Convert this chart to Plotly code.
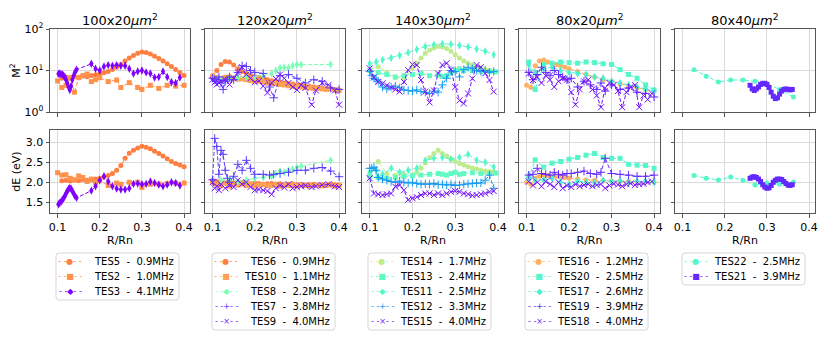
import numpy as np
import plotly.graph_objects as go

# ---------------- data ----------------
sizes = ["100x20", "120x20", "140x30", "80x20", "80x40"]
r_ticks = [0.1, 0.2, 0.3, 0.4]
m2_ticks = [1, 10, 100]
m2_ticktext = ["10<sup>0</sup>", "10<sup>1</sup>", "10<sup>2</sup>"]
de_ticks = [1.5, 2.0, 2.5, 3.0]

# 100x20
tes5_r = [0.11, 0.12, 0.13, 0.14, 0.15, 0.16, 0.17, 0.18, 0.19, 0.20, 0.21, 0.22, 0.23, 0.24, 0.25,
          0.26, 0.27, 0.28, 0.29, 0.30, 0.31, 0.32, 0.33, 0.34, 0.35, 0.36, 0.37, 0.38, 0.39, 0.40]
tes5_m2 = [6.5, 7.0, 6.8, 7.2, 6.9, 7.4, 7.1, 7.6, 7.9, 8.3, 8.8, 9.5, 10.5, 12, 14,
           17, 20, 23, 26, 28, 27, 25, 22, 19.5, 17, 14.5, 12.5, 10.5, 9, 7.6]
tes5_de = [2.04, 2.05, 2.03, 2.06, 2.04, 2.07, 2.05, 2.06, 2.08, 2.10, 2.13, 2.17, 2.22, 2.30, 2.42,
           2.60, 2.73, 2.80, 2.86, 2.90, 2.88, 2.84, 2.78, 2.72, 2.66, 2.59, 2.52, 2.47, 2.43, 2.39]

tes2_r = [0.10, 0.11, 0.12, 0.13, 0.14, 0.15, 0.16, 0.17, 0.18, 0.19, 0.20,
          0.22, 0.24, 0.25, 0.27, 0.29, 0.30, 0.32, 0.34, 0.36, 0.38, 0.40]
tes2_m2 = [5.6, 3.9, 4.4, 6.5, 3.0, 6.7, 7.5, 8.2, 5.4, 6.0, 6.7,
           5.4, 5.9, 3.9, 5.1, 3.9, 3.5, 4.4, 3.7, 4.4, 4.2, 4.4]
tes2_de = [2.24, 2.18, 2.19, 2.10, 2.06, 2.16, 2.12, 2.02, 2.08, 2.00, 2.04,
           1.92, 1.98, 1.95, 2.00, 2.00, 1.87, 1.95, 1.96, 1.97, 1.98, 1.98]

tes3_r = [0.102, 0.105, 0.108, 0.111, 0.114, 0.117, 0.120, 0.123, 0.126, 0.129, 0.132, 0.135, 0.138,
          0.141, 0.145, 0.18, 0.19, 0.20, 0.21, 0.22, 0.23, 0.24, 0.25, 0.26, 0.27, 0.28, 0.29,
          0.30, 0.31, 0.32, 0.33, 0.34, 0.35, 0.36, 0.37, 0.38, 0.39]
tes3_m2 = [8.3, 8.5, 8.2, 8.0, 7.6, 7.0, 6.0, 5.0, 4.0, 3.4, 4.2, 6.0, 7.5,
           9.0, 10.5, 14.5, 11, 10, 12.5, 13.5, 13, 13.5, 13, 13, 11, 8.5, 9.5,
           10, 9, 8.5, 6.8, 7, 9.5, 7, 5.3, 5, 6.8]
tes3_de = [1.45, 1.48, 1.51, 1.55, 1.60, 1.65, 1.72, 1.78, 1.83, 1.86, 1.84, 1.78, 1.72,
           1.66, 1.61, 1.79, 1.90, 2.05, 2.15, 2.02, 1.90, 1.84, 1.82, 1.82, 1.85, 1.96, 1.97,
           1.95, 1.96, 2.02, 1.98, 1.94, 1.90, 1.94, 2.00, 1.98, 1.92]

# 120x20
tes6_r = [0.10, 0.11, 0.12, 0.13, 0.14, 0.15, 0.16, 0.17, 0.18, 0.19, 0.20, 0.21, 0.22, 0.23, 0.24, 0.25,
          0.26, 0.27, 0.28, 0.29, 0.30, 0.31, 0.32, 0.33, 0.34, 0.35, 0.36, 0.37, 0.38, 0.39, 0.40]
tes6_m2 = [7.5, 10, 14, 16.5, 16, 13.5, 11, 9.5, 8.5, 7.8, 7.2, 6.8, 6.4, 6.0, 5.7, 5.5,
           5.2, 5.0, 4.8, 4.7, 4.5, 4.4, 4.2, 4.1, 4.0, 3.9, 3.8, 3.7, 3.6, 3.5, 3.4]
tes6_de = [2.05, 2.02, 2.00, 1.98, 2.02, 1.99, 1.97, 2.00, 1.98, 1.96, 1.98, 1.97, 1.95, 1.96, 1.97, 1.95,
           1.96, 1.94, 1.95, 1.96, 1.94, 1.95, 1.93, 1.94, 1.95, 1.93, 1.94, 1.92, 1.93, 1.94, 1.93]

tes10_r = tes6_r
tes10_m2 = [7.2, 6.8, 6.5, 6.8, 7.0, 6.5, 6.2, 6.3, 6.0, 5.7, 5.6, 5.5, 5.3, 5.0, 4.9, 4.8,
            4.6, 4.5, 4.3, 4.2, 4.1, 4.0, 3.9, 3.8, 3.7, 3.7, 3.6, 3.5, 3.6, 3.4, 3.3]
tes10_de = [2.00, 1.95, 1.92, 1.98, 1.90, 1.95, 1.93, 1.96, 1.92, 1.95, 1.90, 1.93, 1.94, 1.91, 1.92, 1.95,
            1.90, 1.93, 1.92, 1.94, 1.91, 1.93, 1.92, 1.90, 1.93, 1.92, 1.91, 1.93, 1.95, 1.90, 1.92]

tes8_r = [0.12, 0.14, 0.16, 0.18, 0.20, 0.22, 0.24, 0.25, 0.26, 0.27, 0.28, 0.29, 0.30, 0.31, 0.38]
tes8_m2 = [6.0, 6.5, 6.8, 7.0, 7.2, 7.5, 8.5, 10.0, 11.5, 12.0, 11.5, 13.0, 14.0, 13.8, 14.0]
tes8_de = [2.05, 2.08, 2.02, 2.05, 2.10, 2.12, 2.15, 2.22, 2.28, 2.25, 2.30, 2.33, 2.38, 2.40, 2.55]

tes7_r = [0.10, 0.105, 0.11, 0.115, 0.12, 0.125, 0.13, 0.135, 0.14, 0.15, 0.16, 0.17, 0.18,
          0.19, 0.20, 0.22, 0.235, 0.245, 0.26, 0.28, 0.30, 0.32, 0.34, 0.36, 0.38, 0.40]
tes7_m2 = [6.5, 6.0, 5.5, 7.0, 5.0, 3.5, 5.5, 6.0, 7.0, 6.0, 9.0, 13.0, 12.5,
           10.0, 9.0, 8.5, 4.0, 2.2, 7.5, 8.0, 6.5, 5.0, 6.0, 5.5, 3.8, 3.5]
tes7_de = [2.06, 3.10, 2.90, 2.20, 2.80, 2.70, 2.30, 2.10, 2.00, 2.15, 2.45, 2.30, 2.55,
           2.35, 2.20, 2.20, 2.18, 2.20, 2.22, 2.25, 2.30, 2.30, 2.35, 2.37, 2.28, 2.14]

tes9_r = [0.10, 0.105, 0.11, 0.115, 0.12, 0.13, 0.14, 0.15, 0.16, 0.17, 0.18, 0.19, 0.20, 0.21, 0.22, 0.23,
          0.24, 0.25, 0.26, 0.27, 0.28, 0.29, 0.30, 0.31, 0.32, 0.335, 0.345, 0.36, 0.375, 0.39, 0.40]
tes9_m2 = [6.0, 5.2, 4.6, 5.0, 5.5, 6.0, 4.6, 6.5, 9.0, 12.0, 8.0, 6.5, 5.2, 5.6, 4.2, 2.9,
           5.0, 6.3, 8.0, 6.5, 5.0, 4.0, 3.4, 4.5, 3.8, 1.5, 3.3, 5.0, 4.5, 3.3, 1.5]
tes9_de = [2.00, 1.85, 1.90, 1.80, 1.95, 1.85, 1.92, 1.88, 2.05, 1.95, 2.00, 1.88, 1.80, 1.82, 1.80, 1.78,
           1.70, 1.85, 1.92, 1.87, 1.95, 1.85, 1.88, 1.90, 1.92, 1.88, 1.90, 1.93, 1.95, 1.90, 1.88]

# 140x30
tes14_r = [0.10, 0.12, 0.14, 0.16, 0.18, 0.20, 0.21, 0.22, 0.23, 0.24, 0.25, 0.26, 0.27,
           0.28, 0.29, 0.30, 0.31, 0.32, 0.33, 0.34, 0.35, 0.36, 0.37, 0.38, 0.39]
tes14_m2 = [10.0, 12.3, 9.0, 6.8, 6.5, 11.5, 15, 20, 26, 31, 35, 38, 37,
            34, 29, 24, 20, 17, 15, 13.5, 12, 11.5, 10.5, 10.0, 9.6]
tes14_de = [2.18, 2.52, 2.22, 2.17, 2.20, 2.18, 2.25, 2.35, 2.48, 2.62, 2.72, 2.80, 2.72,
            2.66, 2.58, 2.52, 2.47, 2.43, 2.39, 2.36, 2.33, 2.30, 2.28, 2.27, 2.26]

tes13_r = [0.10, 0.12, 0.14, 0.16, 0.18, 0.20, 0.22, 0.24, 0.26, 0.27, 0.28, 0.29, 0.30, 0.31,
           0.32, 0.34, 0.36, 0.38, 0.395]
tes13_m2 = [10, 9, 8, 7, 7.5, 8, 8.5, 7.5, 7.8, 7.2, 7.5, 8.5, 10, 11, 10, 10, 9.5, 9.5, 9.3]
tes13_de = [2.15, 2.12, 2.10, 2.12, 2.15, 2.17, 2.18, 2.20, 2.22, 2.20, 2.18, 2.22, 2.25, 2.20,
            2.22, 2.24, 2.22, 2.22, 2.23]

tes11_r = [0.10, 0.115, 0.13, 0.15, 0.17, 0.19, 0.21, 0.23, 0.25, 0.27, 0.29, 0.31, 0.33, 0.35, 0.37, 0.39]
tes11_m2 = [14.5, 16, 18, 20, 23, 27, 32, 38, 42, 44, 43, 40, 37, 33, 29, 24]
tes11_de = [2.25, 2.30, 2.20, 2.35, 2.25, 2.30, 2.35, 2.55, 2.60, 2.62, 2.58, 2.62, 2.70, 2.55, 2.50, 2.38]

tes12_r = [0.10, 0.105, 0.11, 0.115, 0.12, 0.13, 0.14, 0.15, 0.16, 0.17, 0.18, 0.19, 0.20, 0.21, 0.22, 0.23,
           0.24, 0.25, 0.26, 0.27, 0.28, 0.29, 0.30, 0.31, 0.32, 0.33, 0.34, 0.35, 0.36, 0.37, 0.38, 0.39]
tes12_m2 = [9.5, 7.5, 6.5, 6.0, 5.5, 4.0, 3.6, 4.0, 4.2, 3.8, 3.4, 3.3, 3.2, 3.4, 3.1, 3.0,
            2.8, 3.2, 3.0, 4.5, 6.5, 10.0, 9.5, 7.0, 10.5, 12.0, 11.0, 10.0, 9.5, 10.0, 9.0, 9.5]
tes12_de = [2.35, 2.35, 2.38, 2.30, 2.12, 2.08, 2.05, 2.02, 2.00, 2.03, 2.00, 1.98, 2.00, 1.97, 1.95, 1.96,
            1.95, 1.97, 1.94, 1.95, 1.93, 1.95, 1.92, 1.93, 1.95, 1.96, 1.97, 1.98, 1.98, 2.05, 2.18, 1.85]

tes15_r = [0.10, 0.11, 0.12, 0.13, 0.14, 0.15, 0.16, 0.17, 0.18, 0.19, 0.20, 0.21, 0.22, 0.23, 0.24,
           0.25, 0.26, 0.27, 0.28, 0.29, 0.30, 0.31, 0.32, 0.33, 0.34, 0.35, 0.36, 0.37, 0.38, 0.39]
tes15_m2 = [11.3, 6.8, 5.3, 4.9, 4.4, 3.9, 3.5, 3.1, 5.3, 10.2, 14, 13.6, 5.9, 3.1, 1.7,
            3.3, 8.5, 13.6, 15, 10.5, 4.0, 1.9, 1.6, 2.8, 6.4, 13.6, 12, 8.5, 5.9, 3.1]
tes15_de = [2.10, 1.72, 1.70, 1.68, 1.70, 1.72, 1.89, 1.93, 1.80, 1.56, 1.60, 1.63, 1.68, 1.72, 1.72,
            1.68, 1.72, 1.68, 1.72, 1.76, 1.78, 1.76, 1.72, 1.70, 1.67, 1.68, 1.70, 1.72, 1.76, 1.78]

# 80x20
tes16_r = [0.10, 0.11, 0.12, 0.13, 0.14, 0.15, 0.16, 0.17, 0.18, 0.19, 0.20, 0.22, 0.24, 0.26,
           0.28, 0.30, 0.32, 0.34, 0.36, 0.38, 0.40]
tes16_m2 = [4.4, 3.9, 13, 17, 18, 16, 15, 14, 13, 12, 11, 9.5, 8, 7, 6, 5.5, 4.8, 4.2, 3.8, 3.5, 3.2]
tes16_de = [2.00, 1.95, 2.10, 2.15, 2.18, 2.17, 2.16, 2.15, 2.13, 2.12, 2.10, 2.08, 2.06, 2.05,
            2.04, 2.03, 2.02, 2.02, 2.01, 2.00, 2.00]

tes20_r = [0.105, 0.12, 0.14, 0.16, 0.18, 0.20, 0.22, 0.24, 0.26, 0.28, 0.30, 0.32, 0.34, 0.36, 0.38, 0.40]
tes20_m2 = [16, 3.5, 14, 15, 16, 15.5, 15, 16, 15.5, 14.5, 14, 10.5, 8, 6.5, 4.5, 3.4]
tes20_de = [2.10, 2.56, 2.38, 2.48, 2.52, 2.58, 2.62, 2.68, 2.72, 2.62, 2.60, 2.60, 2.45, 2.43, 2.42, 2.35]

tes17_r = [0.105, 0.12, 0.14, 0.16, 0.18, 0.20, 0.22, 0.24, 0.26, 0.28, 0.30, 0.32, 0.34, 0.36, 0.38, 0.40]
tes17_m2 = [14, 9, 11, 12, 10, 9, 8.5, 8, 7, 6.5, 5.5, 5, 4.5, 4.0, 3.6, 3.2]
tes17_de = [2.18, 2.05, 2.06, 2.10, 2.00, 1.95, 2.03, 2.00, 1.98, 2.05, 2.02, 2.04, 2.01, 2.03, 2.02, 2.00]

tes19_r = [0.105, 0.115, 0.125, 0.135, 0.145, 0.155, 0.165, 0.175, 0.185, 0.195, 0.205, 0.22,
           0.235, 0.25, 0.265, 0.275, 0.285, 0.30, 0.32, 0.34, 0.36, 0.38, 0.40]
tes19_m2 = [9, 6, 8, 12, 9, 7.5, 10, 8, 7, 6, 6.5, 4, 5.5, 4.5, 3.5, 5, 3.2, 4.5, 3.5, 3.8, 3.0, 2.8, 2.3]
tes19_de = [2.18, 2.20, 2.35, 2.22, 2.20, 2.18, 2.25, 2.20, 2.18, 2.22, 2.22, 2.25,
            2.28, 2.22, 2.20, 2.25, 2.60, 2.22, 2.20, 2.18, 2.15, 2.15, 2.18]

tes18_r = [0.105, 0.115, 0.125, 0.135, 0.145, 0.155, 0.165, 0.175, 0.185, 0.195, 0.205, 0.215, 0.225,
           0.235, 0.245, 0.255, 0.265, 0.275, 0.285, 0.295, 0.305, 0.315, 0.325, 0.335, 0.345,
           0.355, 0.365, 0.375, 0.385, 0.395]
tes18_m2 = [8.4, 5.9, 7.0, 5.0, 7.5, 6.0, 4.0, 5.5, 6.5, 6.0, 3.0, 1.5, 3.5, 5.5, 6.0, 3.5, 2.5, 1.3,
            3.8, 5.0, 4.5, 3.2, 1.3, 3.0, 4.0, 4.5, 1.3, 2.5, 2.0, 2.8]
tes18_de = [2.02, 1.92, 2.00, 1.90, 2.02, 1.95, 1.88, 2.00, 1.85, 1.92, 1.88, 1.95, 1.90, 1.93, 1.95,
            1.90, 1.93, 1.95, 1.85, 1.92, 1.96, 1.94, 1.90, 1.95, 1.97, 1.93, 1.95, 1.96, 2.00, 2.02]

# 80x40
tes22_r = [0.127, 0.156, 0.185, 0.214, 0.243, 0.272, 0.30, 0.33, 0.363]
tes22_m2 = [10.4, 7.3, 5.3, 5.9, 5.9, 5.5, 4.8, 3.5, 2.3]
tes22_de = [2.17, 2.10, 2.06, 2.13, 2.05, 1.93, 1.98, 1.95, 2.01]

tes21_r = [0.260, 0.265, 0.270, 0.275, 0.280, 0.285, 0.290, 0.295, 0.300, 0.305, 0.310,
           0.315, 0.320, 0.325, 0.330, 0.335, 0.340, 0.345, 0.350, 0.355, 0.360]
tes21_m2 = [4.4, 3.6, 3.3, 3.6, 4.0, 4.6, 4.9, 4.9, 4.6, 3.9, 3.0, 2.4, 2.1, 2.2, 2.7, 3.2,
            3.5, 3.6, 3.5, 3.4, 3.5]
tes21_de = [2.10, 2.13, 2.14, 2.12, 2.08, 2.02, 1.94, 1.88, 1.85, 1.86, 1.92, 2.00, 2.05, 2.08,
            2.08, 2.07, 2.02, 1.97, 1.93, 1.92, 1.94]

# (name, readout frequency MHz, r, M2, dE) per detector size
groups = [
    [("TES5", 0.9, tes5_r, tes5_m2, tes5_de),
     ("TES2", 1.0, tes2_r, tes2_m2, tes2_de),
     ("TES3", 4.1, tes3_r, tes3_m2, tes3_de)],
    [("TES6", 0.9, tes6_r, tes6_m2, tes6_de),
     ("TES10", 1.1, tes10_r, tes10_m2, tes10_de),
     ("TES8", 2.2, tes8_r, tes8_m2, tes8_de),
     ("TES7", 3.8, tes7_r, tes7_m2, tes7_de),
     ("TES9", 4.0, tes9_r, tes9_m2, tes9_de)],
    [("TES14", 1.7, tes14_r, tes14_m2, tes14_de),
     ("TES13", 2.4, tes13_r, tes13_m2, tes13_de),
     ("TES11", 2.5, tes11_r, tes11_m2, tes11_de),
     ("TES12", 3.3, tes12_r, tes12_m2, tes12_de),
     ("TES15", 4.0, tes15_r, tes15_m2, tes15_de)],
    [("TES16", 1.2, tes16_r, tes16_m2, tes16_de),
     ("TES20", 2.5, tes20_r, tes20_m2, tes20_de),
     ("TES17", 2.6, tes17_r, tes17_m2, tes17_de),
     ("TES19", 3.9, tes19_r, tes19_m2, tes19_de),
     ("TES18", 4.0, tes18_r, tes18_m2, tes18_de)],
    [("TES22", 2.5, tes22_r, tes22_m2, tes22_de),
     ("TES21", 3.9, tes21_r, tes21_m2, tes21_de)],
]


# ---------------- styling ----------------
# the page body has an 8px margin, so the figure is drawn 8px in from the window corner
OFF = 8
W, H = 814, 326
FONT = "DejaVu Sans"
symbols = ["circle", "square", "diamond-tall", "cross-thin", "x-thin"]
glyphs = ["●", "■", "◆", "+", "×"]


def rainbow(f):
    # matplotlib 'rainbow', high frequency -> violet, low -> red/orange
    x = min(max((4.1 - f) / 3.84, 0.0), 1.0)
    r = min(abs(2 * x - 0.5), 1.0)
    g = np.sin(np.pi * x)
    b = np.cos(np.pi * x / 2)
    return "rgb(%d,%d,%d)" % (r * 255, g * 255, b * 255)


def px(x):
    return (x - OFF) / W


def py(y):
    return 1 - (y - OFF) / H


def rounded_box(x0, y0, x1, y1, rad=3):
    # rounded rectangle path in paper coords (pixel inputs, y down)
    rx, ry = rad / W, rad / H
    a, b, c, d = px(x0), px(x1), py(y0), py(y1)
    return ("M %f,%f L %f,%f Q %f,%f %f,%f L %f,%f Q %f,%f %f,%f L %f,%f Q %f,%f %f,%f "
            "L %f,%f Q %f,%f %f,%f Z" % (
                a + rx, c, b - rx, c, b, c, b, c - ry, b, d + ry, b, d, b - rx, d,
                a + rx, d, a, d, a, d + ry, a, c - ry, a, c, a + rx, c))


col_px = [(50, 190), (205, 345), (362, 504), (519, 660), (675, 815)]
rows_px = [(29, 112), (130, 213)]
leg_left = [56, 212, 368, 525, 682]
leg_w = 123
xr = [0.082, 0.414]

fig = go.Figure()
layout = {}
annotations = []
shapes = []

axis_common = dict(showgrid=True, gridcolor="#dadada", gridwidth=1, zeroline=False,
                   showline=True, linecolor="#555555", linewidth=1, mirror=True,
                   ticks="outside", ticklen=3.5, tickwidth=1, tickcolor="#555555",
                   tickfont=dict(family=FONT, size=11, color="black"), automargin=False)

for c, grp in enumerate(groups):
    for row in range(2):
        k = row * 5 + c + 1
        xa = "xaxis" if k == 1 else "xaxis%d" % k
        ya = "yaxis" if k == 1 else "yaxis%d" % k
        x0, x1 = col_px[c]
        ytop, ybot = rows_px[row]
        xd = dict(axis_common, domain=[px(x0), px(x1)], anchor="y%d" % k if k > 1 else "y",
                  range=xr, tickvals=r_ticks, ticktext=["0.1", "0.2", "0.3", "0.4"],
                  showticklabels=(row == 1))
        if row == 1:
            xd["title"] = dict(text="R/Rn", font=dict(family=FONT, size=11, color="black"), standoff=2)
        if row == 0:
            yd = dict(axis_common, domain=[py(ybot), py(ytop)], type="log", range=[0, 2],
                      tickvals=m2_ticks, ticktext=m2_ticktext, showticklabels=(c == 0))
            if c == 0:
                yd["title"] = dict(text="M<sup>2</sup>", font=dict(family=FONT, size=11, color="black"),
                                   standoff=1)
        else:
            yd = dict(axis_common, domain=[py(ybot), py(ytop)], range=[1.23, 3.31],
                      tickvals=de_ticks, ticktext=["1.5", "2.0", "2.5", "3.0"], showticklabels=(c == 0))
            if c == 0:
                yd["title"] = dict(text="dE (eV)", font=dict(family=FONT, size=11, color="black"),
                                   standoff=2)
        yd["anchor"] = "x%d" % k if k > 1 else "x"
        layout[xa] = xd
        layout[ya] = yd

    # traces
    for j, (name, f, r, m2, de) in enumerate(grp):
        col = rainbow(f)
        thin = symbols[j] in ("cross-thin", "x-thin")
        mk = dict(symbol=symbols[j], size=6 if thin or j == 2 else 5, color=col,
                  line=dict(color=col, width=1 if thin else 0))
        for row, vals in ((0, m2), (1, de)):
            k = row * 5 + c + 1
            fig.add_trace(go.Scatter(
                x=r, y=vals, mode="lines+markers", name=name, showlegend=False,
                line=dict(color=col, width=1, dash="4px,2px"), marker=mk,
                xaxis="x" if k == 1 else "x%d" % k, yaxis="y" if k == 1 else "y%d" % k))

    # column title
    x0, x1 = col_px[c]
    annotations.append(dict(text=sizes[c] + "<i>μm</i><sup>2</sup>", x=px((x0 + x1) / 2), y=py(20),
                            xref="paper", yref="paper", showarrow=False, xanchor="center",
                            yanchor="middle", font=dict(family=FONT, size=13, color="black")))

    # legend box
    lx = leg_left[c]
    top = 253
    n = len(grp)
    bottom = top + 15 * n + 2
    shapes.append(dict(type="path", xref="paper", yref="paper",
                       path=rounded_box(lx, top, lx + leg_w, bottom),
                       line=dict(color="#d6d6d6", width=1), fillcolor="white", layer="above"))
    for j, (name, f, r, m2, de) in enumerate(grp):
        yc = top + 8 + 15 * j
        col = rainbow(f)
        annotations.append(dict(text="- -" + glyphs[j] + "- -", x=px(lx + 14), y=py(yc),
                                xref="paper", yref="paper", showarrow=False, xanchor="center",
                                yanchor="middle", font=dict(family=FONT, size=8, color=col)))
        annotations.append(dict(text="%s  -  %.1fMHz" % (name, f), x=px(lx + leg_w - 3), y=py(yc),
                                xref="paper", yref="paper", showarrow=False, xanchor="right",
                                yanchor="middle", font=dict(family=FONT, size=10, color="black")))

fig.update_layout(**layout)
fig.update_layout(width=W, height=H, margin=dict(l=0, r=0, t=0, b=0),
                  paper_bgcolor="white", plot_bgcolor="white",
                  annotations=annotations, shapes=shapes, showlegend=False,
                  font=dict(family=FONT, size=11, color="black"))

fig.write_html("out.html")
